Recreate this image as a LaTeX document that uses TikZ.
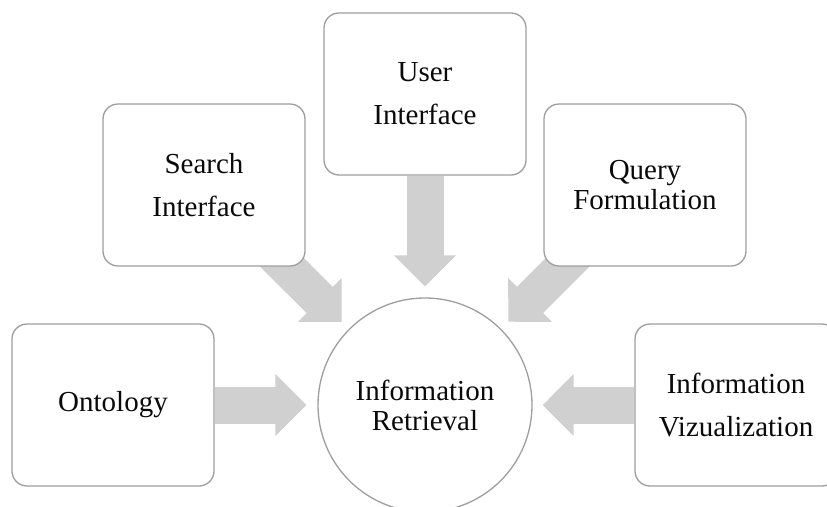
\documentclass[tikz,border=0pt]{standalone}
\usepackage{fontspec}
\setmainfont{Liberation Serif}
\usetikzlibrary{arrows.meta,backgrounds}
\definecolor{boxline}{RGB}{158,158,158}
\definecolor{arrowgray}{RGB}{208,208,208}
\definecolor{inkdark}{RGB}{10,10,10}
\begin{document}
\begin{tikzpicture}[x=1pt,y=-1pt,
  topic/.style={draw=boxline, line width=1.3pt, fill=white, rounded corners=15pt,
    minimum width=202pt, minimum height=162pt, inner sep=0pt, align=center,
    text=inkdark, font=\fontsize{29}{43}\selectfont},
  tight/.style={font=\fontsize{29}{30}\selectfont},
  hub/.style={draw=boxline, line width=1.3pt, fill=white, circle,
    minimum size=214pt, inner sep=0pt, align=center, text=inkdark,
    font=\fontsize{29}{30}\selectfont},
  blockarrow/.style={draw=arrowgray, line width=37pt,
    -{Triangle[width=60pt,length=31pt,fill=arrowgray]}}]
\useasboundingbox (0,0) rectangle (827,506);

% central concept
\node[hub] (ir) at (425,405) {Information\\Retrieval};

% surrounding topics
\node[topic] (ui) at (425,94) {User\\Interface};
\node[topic] (si) at (204,185) {Search\\Interface};
\node[topic, tight] (qf) at (645,185) {Query\\Formulation};
\node[topic] (on) at (113,405) {Ontology};
\node[topic] (iv) at (736,405) {Information\\Vizualization};

% block arrows behind the boxes, pointing at the hub
\begin{scope}[on background layer]
  \draw[blockarrow, shorten >=11pt] (ui.south) -- (ir.north);
  \draw[blockarrow, shorten >=10pt] (si.center) -- (ir.north west);
  \draw[blockarrow, shorten >=10pt] (qf.center) -- (ir.north east);
  \draw[blockarrow, shorten >=11pt] (on.east) -- (ir.west);
  \draw[blockarrow, shorten >=10pt] (iv.west) -- (ir.east);
\end{scope}
\end{tikzpicture}
\end{document}
